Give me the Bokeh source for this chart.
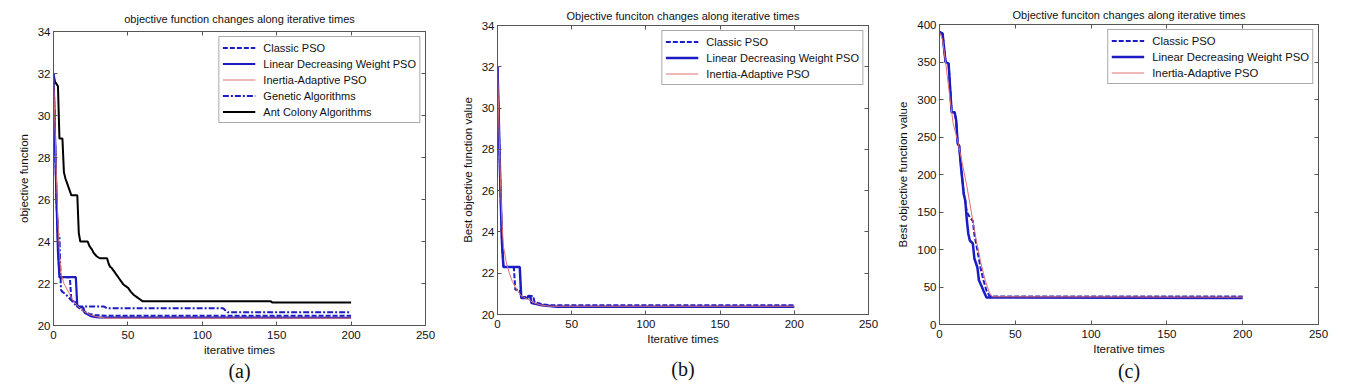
from bokeh.plotting import figure
from bokeh.models import Range1d, LinearAxis, FixedTicker
from bokeh.layouts import row
from bokeh.embed import file_html
from bokeh.resources import INLINE

# ---------------- data ----------------
x_ticks = [0, 50, 100, 150, 200, 250]
ab_y_ticks = [20, 22, 24, 26, 28, 30, 32, 34]
c_y_ticks = [0, 50, 100, 150, 200, 250, 300, 350, 400]

series_names = ["Classic PSO", "Linear Decreasing Weight PSO", "Inertia-Adaptive PSO",
                "Genetic Algorithms", "Ant Colony Algorithms"]

# panel (a)
a_classic_x = [0, 1, 2, 3, 4, 11, 12, 15, 17, 20, 24, 28, 35, 200]
a_classic_y = [32, 29, 26, 24, 22.3, 22.3, 21.2, 21.1, 20.85, 20.7, 20.55, 20.5, 20.47, 20.47]
a_ldw_x = [0, 1, 2, 3, 4, 15, 16, 20, 21, 25, 30, 200]
a_ldw_y = [32, 29, 26, 23.5, 22.3, 22.3, 20.9, 20.85, 20.6, 20.45, 20.38, 20.37]
a_ia_x = [0, 1, 2, 3, 4, 5, 7, 10, 13, 16, 20, 25, 30, 35, 200]
a_ia_y = [32, 29.5, 27, 25, 23.5, 22.5, 22.0, 21.6, 21.2, 20.95, 20.7, 20.5, 20.4, 20.35, 20.35]
a_ga_x = [0, 1, 2, 3, 4, 5, 6, 8, 10, 12, 14, 16, 34, 36, 114, 117, 200]
a_ga_y = [32, 29, 26, 24.4, 24.2, 21.7, 21.6, 21.5, 21.35, 21.2, 21.05, 20.9, 20.9, 20.82, 20.82, 20.63, 20.63]
a_aco_x = [0, 1, 3, 4, 6, 7, 8, 9, 10, 11, 12, 16, 17, 18, 23, 24, 25, 26, 27, 29, 31, 36, 37, 38,
           39, 40, 41, 42, 43, 44, 45, 46, 47, 48, 49, 50, 52, 54, 56, 58, 60, 146, 147, 200]
a_aco_y = [32, 31.6, 31.4, 28.9, 28.9, 27.3, 27.0, 26.8, 26.6, 26.4, 26.2, 26.2, 24.4, 24.0, 24.0, 23.8,
           23.7, 23.6, 23.45, 23.3, 23.2, 23.2, 22.95, 22.8, 22.75, 22.65, 22.55, 22.45, 22.35, 22.25,
           22.15, 22.05, 21.95, 21.9, 21.85, 21.8, 21.6, 21.45, 21.35, 21.25, 21.15, 21.15, 21.1, 21.1]

# panel (b)
b_classic_x = [0, 1, 2, 3, 4, 11, 12, 15, 16, 20, 21, 24, 25, 30, 35, 200]
b_classic_y = [32, 29, 26, 23.5, 22.3, 22.3, 21.2, 21.2, 20.85, 20.85, 20.9, 20.9, 20.6, 20.5, 20.45, 20.45]
b_ldw_x = [0, 1, 2, 3, 4, 15, 16, 20, 21, 22, 23, 30, 40, 200]
b_ldw_y = [32, 29, 26, 23.5, 22.3, 22.3, 20.8, 20.8, 20.9, 20.9, 20.55, 20.45, 20.38, 20.38]
b_ia_x = [0, 1, 2, 3, 4, 6, 8, 10, 13, 16, 20, 25, 30, 35, 200]
b_ia_y = [32, 29, 26.5, 24.5, 23.3, 22.5, 22.0, 21.6, 21.2, 20.9, 20.75, 20.55, 20.45, 20.4, 20.4]

# panel (c)
c_classic_x = [0, 2, 4, 6, 7, 8, 10, 11, 12, 13, 14, 16, 17, 18, 20, 22, 23, 25, 27, 29, 31, 33, 35, 200]
c_classic_y = [390, 388, 350, 348, 316, 283, 283, 272, 241, 238, 214, 174, 165, 150, 143, 138, 120, 99,
               76, 59, 45, 38, 37.5, 37.5]
c_ldw_x = [0, 2, 4, 6, 7, 8, 10, 11, 12, 13, 14, 16, 17, 18, 19, 20, 22, 23, 25, 26, 28, 29, 31, 200]
c_ldw_y = [390, 388, 350, 348, 316, 283, 283, 272, 241, 238, 214, 174, 165, 140, 121, 112, 108, 88, 76,
           59, 50, 45, 36, 35.5]
c_ia_x = [0, 2, 4, 7, 9, 12, 15, 18, 21, 24, 27, 30, 33, 35, 200]
c_ia_y = [390, 380, 350, 300, 268, 245, 215, 185, 150, 115, 85, 60, 42, 37, 36.5]

# ---------------- styling ----------------
BLUE = "#1c1cc4"
RED = "#e07070"
SANS = "Liberation Sans"
SERIF = "Liberation Serif"
FRAME = "#555555"
TXT = "#111111"


def hidden_axis(ticks, label, font, size, standoff, show_ticks=True):
    return LinearAxis(ticker=FixedTicker(ticks=ticks),
                      major_label_text_font_size="1px", major_label_text_color=None,
                      major_label_standoff=0,
                      axis_label=label, axis_label_text_font=font, axis_label_text_font_size=size,
                      axis_label_text_font_style="normal", axis_label_text_color=TXT,
                      axis_label_standoff=standoff,
                      major_tick_in=4 if show_ticks else 0, major_tick_out=0,
                      minor_tick_line_color=None,
                      axis_line_color=FRAME if show_ticks else None,
                      major_tick_line_color=FRAME if show_ticks else None)


def make_fig(width, height, yr, yticks, borders, title, title_standoff, xlabel, ylabel,
             caption, cap_standoff):
    p = figure(width=width, height=height, x_range=Range1d(0, 250), y_range=Range1d(*yr),
               output_backend="svg", toolbar_location=None, frame_align=False, title=None,
               min_border_left=borders[0], min_border_right=borders[1],
               min_border_top=borders[2], min_border_bottom=borders[3],
               background_fill_color="white", border_fill_color="white")
    p.outline_line_color = FRAME
    p.grid.visible = False
    for ax, ticks in ((p.xaxis[0], x_ticks), (p.yaxis[0], yticks)):
        ax.ticker = FixedTicker(ticks=ticks)
        ax.major_tick_in = 4
        ax.major_tick_out = 0
        ax.minor_tick_line_color = None
        ax.axis_line_color = FRAME
        ax.major_tick_line_color = FRAME
        ax.major_label_text_font = SANS
        ax.major_label_text_font_size = "11.5px"
        ax.major_label_text_color = TXT
        ax.axis_label_text_font = SANS
        ax.axis_label_text_font_size = "11.5px"
        ax.axis_label_text_font_style = "normal"
        ax.axis_label_text_color = TXT
    p.xaxis.major_label_standoff = 5
    p.xaxis.axis_label_standoff = 2
    p.yaxis.major_label_standoff = 3
    p.yaxis.axis_label_standoff = 5
    p.xaxis.axis_label = xlabel
    p.yaxis.axis_label = ylabel
    # box ticks on the right, title on the top axis, caption under the x axis
    p.add_layout(hidden_axis(yticks, None, SANS, "1px", 0), "right")
    p.add_layout(hidden_axis(x_ticks, title, SANS, "11px", title_standoff), "above")
    p.add_layout(hidden_axis([], caption, SERIF, "20px", cap_standoff, show_ticks=False), "below")
    return p


def style_legend(p, font="11px"):
    lg = p.legend[0]
    lg.location = "top_right"
    lg.margin = 5
    lg.padding = 3
    lg.spacing = 1
    lg.label_height = 15
    lg.glyph_height = 15
    lg.glyph_width = 33
    lg.label_standoff = 8
    lg.label_text_font = SANS
    lg.label_text_font_size = font
    lg.label_text_color = TXT
    lg.border_line_color = FRAME
    lg.border_line_width = 1
    lg.background_fill_alpha = 1.0


H = 388

# frame (a): x 53-425, y 31-325
pa = make_fig(458, H, (20, 34), ab_y_ticks, (53, 33, 31, 63),
              "objective function changes along iterative times", 7,
              "iterative times", "objective function", "(a)", 1)
pa.line(a_aco_x, a_aco_y, color="black", line_width=2, legend_label=series_names[4])
pa.line(a_ga_x, a_ga_y, color=BLUE, line_width=2, line_dash="6 2 2 2", legend_label=series_names[3])
pa.line(a_classic_x, a_classic_y, color=BLUE, line_width=2, line_dash="5 2", legend_label=series_names[0])
pa.line(a_ldw_x, a_ldw_y, color=BLUE, line_width=2.2, legend_label=series_names[1])
pa.line(a_ia_x, a_ia_y, color=RED, line_width=1, legend_label=series_names[2])
style_legend(pa)
items = {it.label.value: it for it in pa.legend[0].items}
pa.legend[0].items = [items[n] for n in series_names]

# frame (b): x 496-868, y 25-314
pb = make_fig(435, H, (20, 34), ab_y_ticks, (38, 25, 25, 74),
              "Objective funciton changes along iterative times", 4,
              "Iterative times", "Best objective function value", "(b)", 10)
pb.line(b_classic_x, b_classic_y, color=BLUE, line_width=2, line_dash="5 2", legend_label=series_names[0])
pb.line(b_ldw_x, b_ldw_y, color=BLUE, line_width=2.5, legend_label=series_names[1])
pb.line(b_ia_x, b_ia_y, color=RED, line_width=1, legend_label=series_names[2])
style_legend(pb)

# frame (c): x 939-1318, y 24-324
pc = make_fig(457, H, (0, 400), c_y_ticks, (46, 32, 24, 64),
              "Objective funciton changes along iterative times", 4,
              "Iterative times", "Best objective function value", "(c)", 2)
pc.line(c_classic_x, c_classic_y, color=BLUE, line_width=2, line_dash="5 2", legend_label=series_names[0])
pc.line(c_ldw_x, c_ldw_y, color=BLUE, line_width=2.5, legend_label=series_names[1])
pc.line(c_ia_x, c_ia_y, color=RED, line_width=1, legend_label=series_names[2])
style_legend(pc, "11.3px")

layout = row(pa, pb, pc)
open("out.html", "w").write(file_html(layout, INLINE))
